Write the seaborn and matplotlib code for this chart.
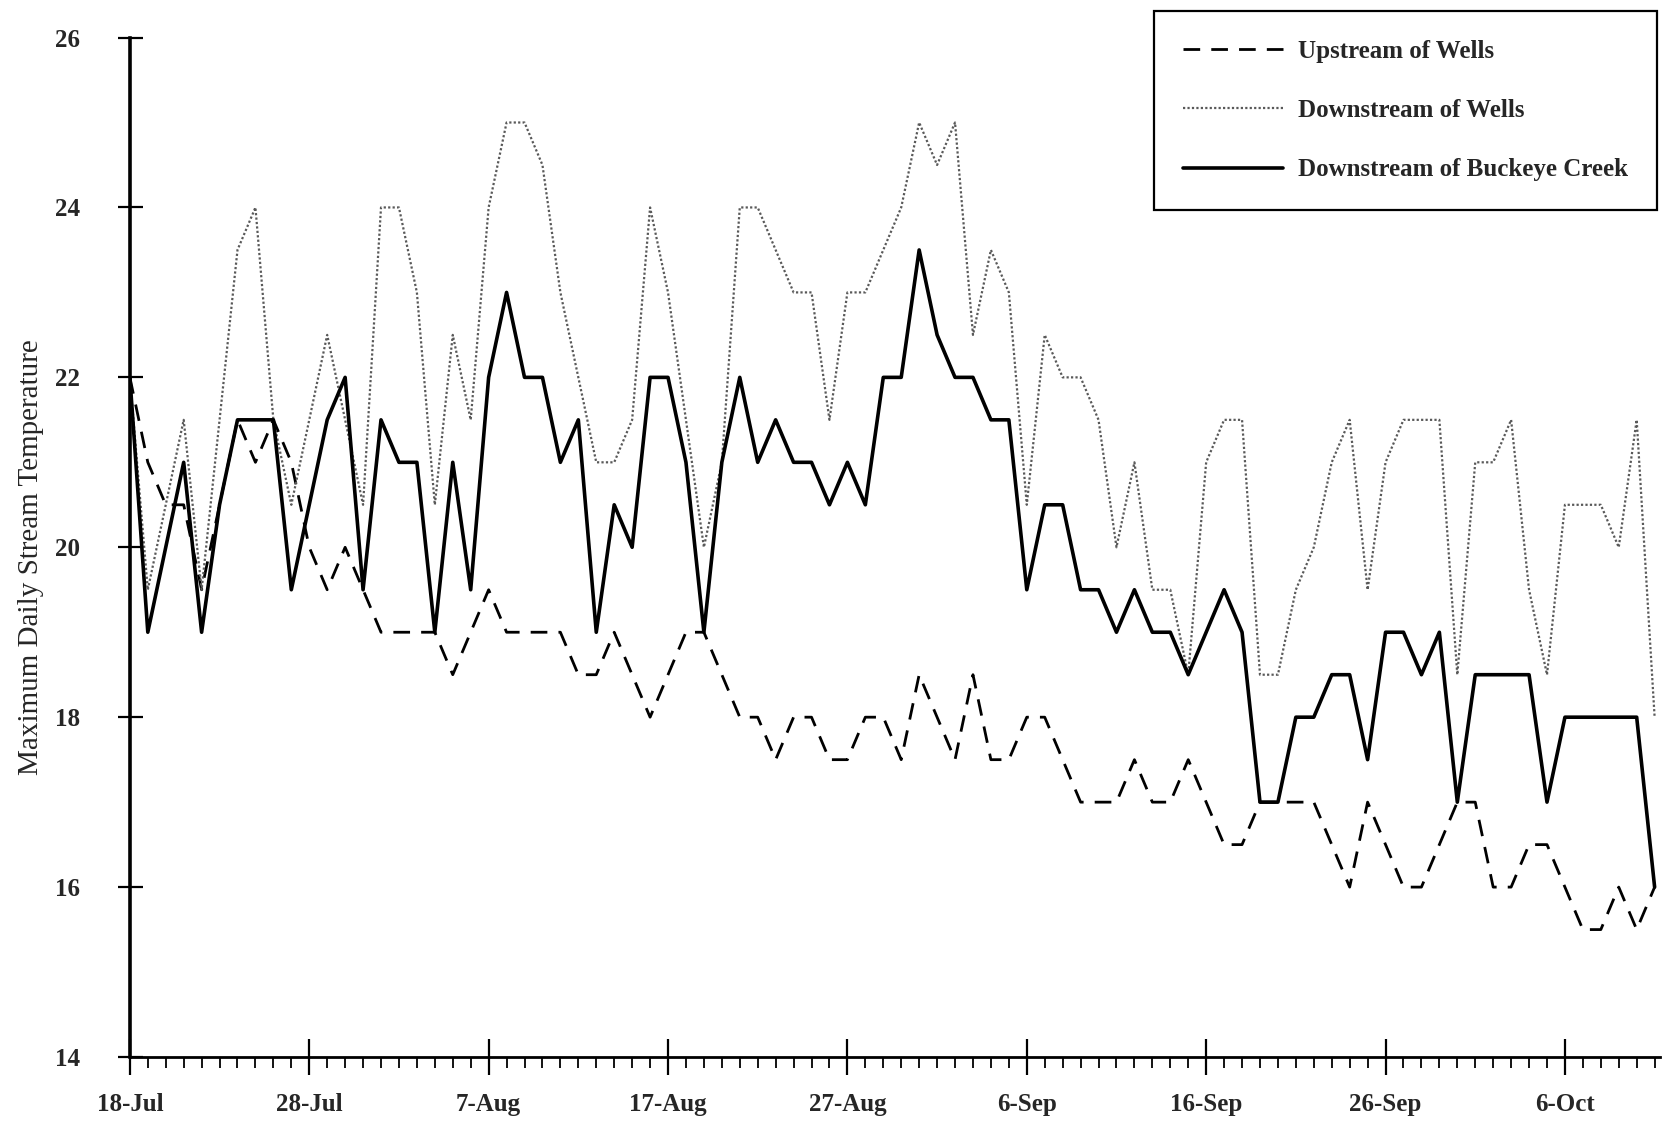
import numpy as np
import matplotlib
matplotlib.use('Agg')
import matplotlib.pyplot as plt
import seaborn as sns

# daily maximum stream temperature, 18-Jul .. 11-Oct (day index 0..85)
days = np.arange(86)

upstream = [22, 21, 20.5, 20.5, 19.5, 20.5, 21.5, 21, 21.5, 21,
            20, 19.5, 20, 19.5, 19, 19, 19, 19, 18.5, 19,
            19.5, 19, 19, 19, 19, 18.5, 18.5, 19, 18.5, 18,
            18.5, 19, 19, 18.5, 18, 18, 17.5, 18, 18, 17.5,
            17.5, 18, 18, 17.5, 18.5, 18, 17.5, 18.5, 17.5, 17.5,
            18, 18, 17.5, 17, 17, 17, 17.5, 17, 17, 17.5,
            17, 16.5, 16.5, 17, 17, 17, 17, 16.5, 16, 17,
            16.5, 16, 16, 16.5, 17, 17, 16, 16, 16.5, 16.5,
            16, 15.5, 15.5, 16, 15.5, 16]

downstream_wells = [22, 19.5, 20.5, 21.5, 19.5, 21.5, 23.5, 24, 21.5, 20.5,
                    21.5, 22.5, 21.5, 20.5, 24, 24, 23, 20.5, 22.5, 21.5,
                    24, 25, 25, 24.5, 23, 22, 21, 21, 21.5, 24,
                    23, 21.5, 20, 21, 24, 24, 23.5, 23, 23, 21.5,
                    23, 23, 23.5, 24, 25, 24.5, 25, 22.5, 23.5, 23,
                    20.5, 22.5, 22, 22, 21.5, 20, 21, 19.5, 19.5, 18.5,
                    21, 21.5, 21.5, 18.5, 18.5, 19.5, 20, 21, 21.5, 19.5,
                    21, 21.5, 21.5, 21.5, 18.5, 21, 21, 21.5, 19.5, 18.5,
                    20.5, 20.5, 20.5, 20, 21.5, 18]

buckeye = [22, 19, 20, 21, 19, 20.5, 21.5, 21.5, 21.5, 19.5,
           20.5, 21.5, 22, 19.5, 21.5, 21, 21, 19, 21, 19.5,
           22, 23, 22, 22, 21, 21.5, 19, 20.5, 20, 22,
           22, 21, 19, 21, 22, 21, 21.5, 21, 21, 20.5,
           21, 20.5, 22, 22, 23.5, 22.5, 22, 22, 21.5, 21.5,
           19.5, 20.5, 20.5, 19.5, 19.5, 19, 19.5, 19, 19, 18.5,
           19, 19.5, 19, 17, 17, 18, 18, 18.5, 18.5, 17.5,
           19, 19, 18.5, 19, 17, 18.5, 18.5, 18.5, 18.5, 17,
           18, 18, 18, 18, 18, 16]

series_names = ['Upstream of Wells', 'Downstream of Wells', 'Downstream of Buckeye Creek']
tick_days = [0, 10, 20, 30, 40, 50, 60, 70, 80]
tick_labels = ['18-Jul', '28-Jul', '7-Aug', '17-Aug', '27-Aug', '6-Sep', '16-Sep', '26-Sep', '6-Oct']
y_ticks = [14, 16, 18, 20, 22, 24, 26]

sns.set_theme(style='ticks')
plt.rcParams['font.family'] = ['Liberation Serif', 'DejaVu Serif']

fig = plt.figure(figsize=(16.65, 11.24), dpi=100)
ax = fig.add_axes([0.078, 0.0596, 0.919, 0.907])

line_styles = [
    dict(color='black', linewidth=2.0, linestyle=(0, (6, 4))),
    dict(color='0.35', linewidth=1.6, linestyle=(0, (1, 1))),
    dict(color='black', linewidth=2.6, linestyle='-'),
]
for name, vals, st in zip(series_names, [upstream, downstream_wells, buckeye], line_styles):
    sns.lineplot(x=days, y=vals, ax=ax, label=name, **st)

ax.set_xlim(0, 85.3)
ax.set_ylim(14, 26)
ax.set_xticks(tick_days)
ax.set_xticklabels(tick_labels, fontsize=18, fontweight='bold')
ax.set_xticks(days, minor=True)
ax.set_yticks(y_ticks)
ax.set_yticklabels([str(v) for v in y_ticks], fontsize=18, fontweight='bold')

ax.tick_params(axis='x', which='major', direction='inout', length=26, width=1.6, pad=13, color='black')
ax.tick_params(axis='x', which='minor', direction='out', length=8, width=1.3, color='black')
ax.tick_params(axis='y', which='major', direction='inout', length=18, width=1.6, pad=27, color='black')

sns.despine(ax=ax)
ax.spines['left'].set_linewidth(2.6)
ax.spines['bottom'].set_linewidth(2.0)
ax.spines['left'].set_color('black')
ax.spines['bottom'].set_color('black')

ax.set_ylabel('Maximum Daily Stream Temperature', fontsize=21)
ax.yaxis.set_label_coords(-0.056, 0.49)
ax.set_xlabel('')

leg = ax.legend(loc='upper right', bbox_to_anchor=(1657 / 1665, 1 - 11 / 1124),
                bbox_transform=fig.transFigure, borderaxespad=0, frameon=True, fancybox=False,
                edgecolor='black', framealpha=1, handlelength=4.0,
                labelspacing=1.45, borderpad=1.15, handletextpad=0.6,
                prop={'weight': 'bold', 'size': 18})
leg.get_frame().set_linewidth(1.6)

fig.savefig('out.png', dpi=100, facecolor='white')
